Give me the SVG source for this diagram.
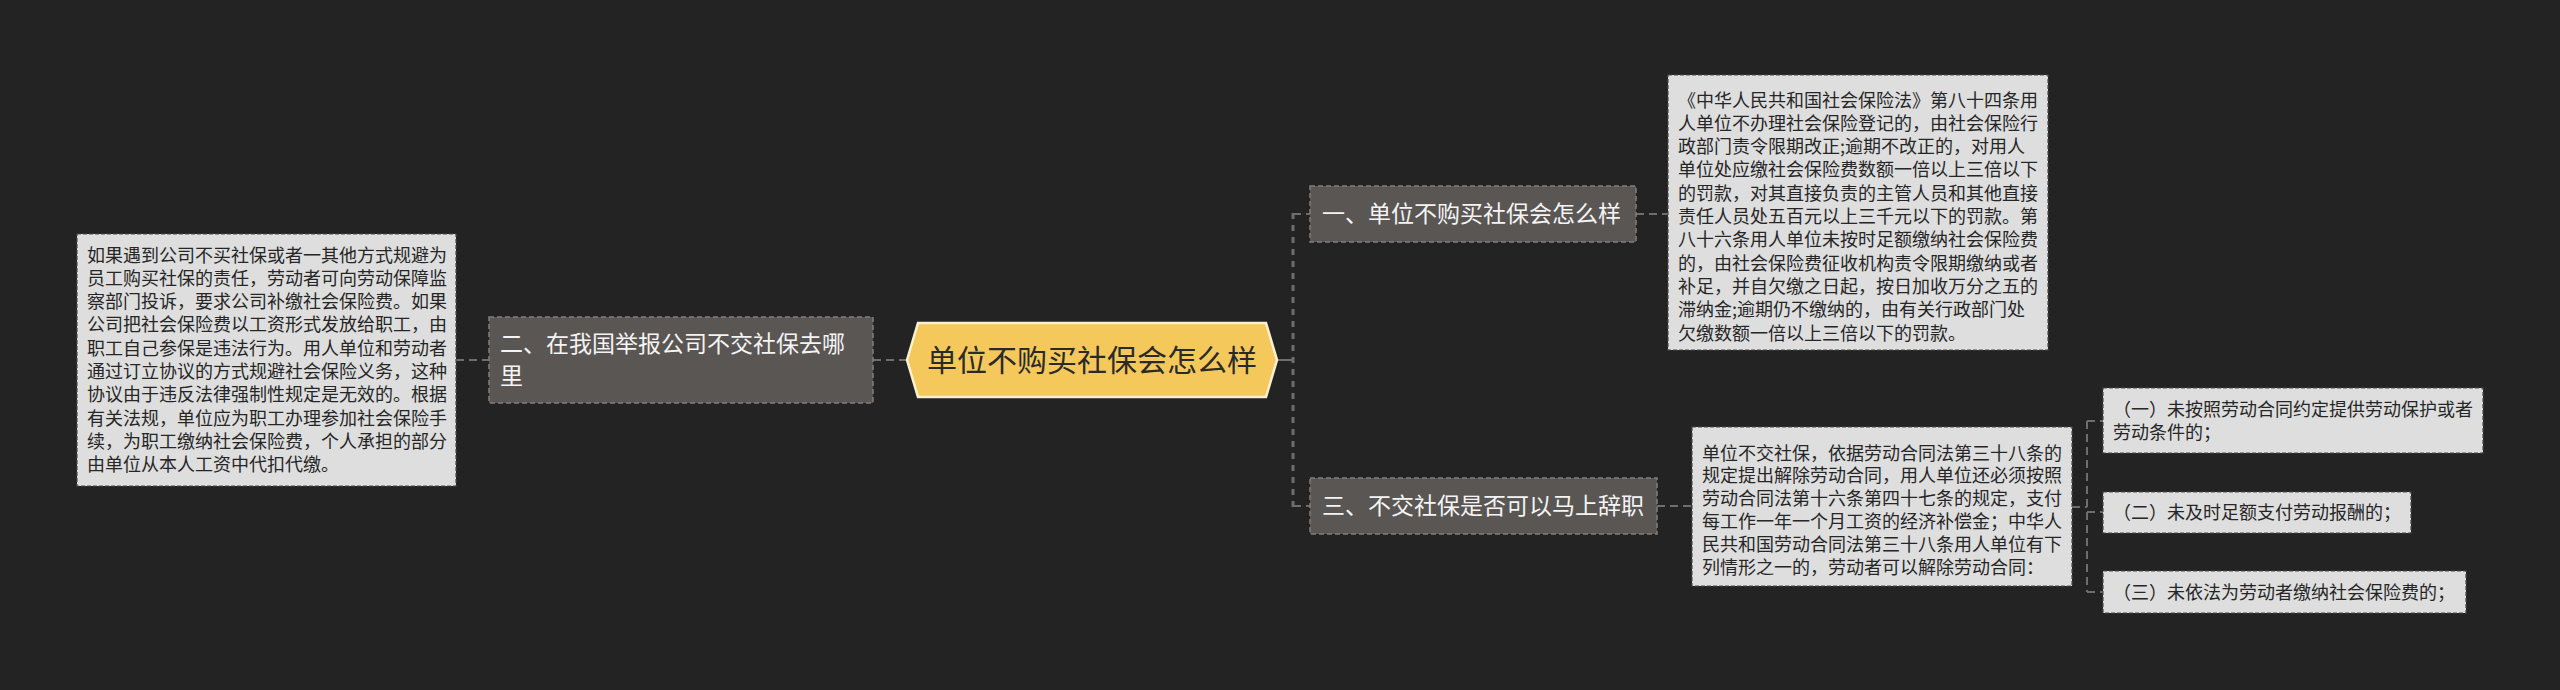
<svg xmlns="http://www.w3.org/2000/svg" width="2560" height="690" viewBox="0 0 2560 690">
<style>
.bg{fill:#232323}
.conn{fill:none;stroke:#6e6e6e;stroke-width:2;stroke-dasharray:8 5}
.conn2{fill:none;stroke:#6e6e6e;stroke-width:2}
.trunk{fill:none;stroke:#6e6e6e;stroke-width:3;stroke-dasharray:6 6}
.node{fill:#5a5654;stroke:#837e7b;stroke-width:1.5;stroke-dasharray:5 3}
.box{fill:#dedede;stroke:#4a4a4a;stroke-width:1.2;stroke-dasharray:4 2}
.ntxt{font-family:"Noto Sans CJK SC","Noto Sans",sans-serif;font-size:23px;fill:#f4f4f4}
.btxt{font-family:"Noto Sans CJK SC","Noto Sans",sans-serif;font-size:18px;fill:#262626}
.ctxt{font-family:"Noto Sans CJK SC","Noto Sans",sans-serif;font-size:30px;fill:#2a2a2a}
</style>
<rect class="bg" x="0" y="0" width="2560" height="690"/>
<g id="connectors">
<line class="conn" x1="873" y1="360" x2="907" y2="360"/>
<line class="conn" x1="456" y1="360" x2="489" y2="360"/>
<line class="conn2" x1="1277" y1="360" x2="1293" y2="360"/>
<line class="trunk" x1="1293" y1="213" x2="1293" y2="507"/>
<line class="conn" x1="1293" y1="214" x2="1310" y2="214"/>
<line class="conn" x1="1293" y1="506" x2="1310" y2="506"/>
<line class="conn" x1="1636" y1="214" x2="1668" y2="214"/>
<line class="conn" x1="1657" y1="506" x2="1692" y2="506"/>
<line class="conn" x1="2072" y1="507" x2="2087" y2="507"/>
<line class="conn" x1="2087" y1="421" x2="2087" y2="592" stroke-width="1.5"/>
<line class="conn" x1="2087" y1="421" x2="2103" y2="421" stroke-width="1.5"/>
<line class="conn" x1="2087" y1="512" x2="2103" y2="512" stroke-width="1.5"/>
<line class="conn" x1="2087" y1="592" x2="2103" y2="592" stroke-width="1.5"/>
</g>
<g id="center">
<path d="M907,360 L918,323 L1266,323 L1277,360 L1266,397 L918,397 Z" fill="#f4c85a" stroke="#fbf0d2" stroke-width="2.5"/>
<text class="ctxt" x="1092" y="371" text-anchor="middle">单位不购买社保会怎么样</text>
</g>
<g id="node2">
<rect class="node" x="489" y="317" width="384" height="86"/>
<text class="ntxt"><tspan x="500" y="352">二、在我国举报公司不交社保去哪</tspan><tspan x="500" y="384">里</tspan></text>
</g>
<g id="node2-detail">
<rect class="box" x="77" y="234" width="379" height="252"/>
<text class="btxt">
<tspan x="87" y="261.5">如果遇到公司不买社保或者一其他方式规避为</tspan>
<tspan x="87" y="284.8">员工购买社保的责任，劳动者可向劳动保障监</tspan>
<tspan x="87" y="308.1">察部门投诉，要求公司补缴社会保险费。如果</tspan>
<tspan x="87" y="331.4">公司把社会保险费以工资形式发放给职工，由</tspan>
<tspan x="87" y="354.7">职工自己参保是违法行为。用人单位和劳动者</tspan>
<tspan x="87" y="378">通过订立协议的方式规避社会保险义务，这种</tspan>
<tspan x="87" y="401.3">协议由于违反法律强制性规定是无效的。根据</tspan>
<tspan x="87" y="424.6">有关法规，单位应为职工办理参加社会保险手</tspan>
<tspan x="87" y="447.9">续，为职工缴纳社会保险费，个人承担的部分</tspan>
<tspan x="87" y="471.2">由单位从本人工资中代扣代缴。</tspan>
</text>
</g>
<g id="node1">
<rect class="node" x="1310" y="186" width="326" height="56"/>
<text class="ntxt" x="1322" y="222">一、单位不购买社保会怎么样</text>
</g>
<g id="node1-detail">
<rect class="box" x="1668" y="75" width="380" height="275"/>
<text class="btxt">
<tspan x="1678" y="106.5">《中华人民共和国社会保险法》第八十四条用</tspan>
<tspan x="1678" y="129.8">人单位不办理社会保险登记的，由社会保险行</tspan>
<tspan x="1678" y="153.1">政部门责令限期改正;逾期不改正的，对用人</tspan>
<tspan x="1678" y="176.4">单位处应缴社会保险费数额一倍以上三倍以下</tspan>
<tspan x="1678" y="199.7">的罚款，对其直接负责的主管人员和其他直接</tspan>
<tspan x="1678" y="223">责任人员处五百元以上三千元以下的罚款。第</tspan>
<tspan x="1678" y="246.3">八十六条用人单位未按时足额缴纳社会保险费</tspan>
<tspan x="1678" y="269.6">的，由社会保险费征收机构责令限期缴纳或者</tspan>
<tspan x="1678" y="292.9">补足，并自欠缴之日起，按日加收万分之五的</tspan>
<tspan x="1678" y="316.2">滞纳金;逾期仍不缴纳的，由有关行政部门处</tspan>
<tspan x="1678" y="339.5">欠缴数额一倍以上三倍以下的罚款。</tspan>
</text>
</g>
<g id="node3">
<rect class="node" x="1310" y="478" width="347" height="56"/>
<text class="ntxt" x="1322" y="514">三、不交社保是否可以马上辞职</text>
</g>
<g id="node3-detail">
<rect class="box" x="1692" y="427" width="380" height="159"/>
<text class="btxt">
<tspan x="1702" y="459.5">单位不交社保，依据劳动合同法第三十八条的</tspan>
<tspan x="1702" y="482.3">规定提出解除劳动合同，用人单位还必须按照</tspan>
<tspan x="1702" y="505.1">劳动合同法第十六条第四十七条的规定，支付</tspan>
<tspan x="1702" y="527.9">每工作一年一个月工资的经济补偿金；中华人</tspan>
<tspan x="1702" y="550.7">民共和国劳动合同法第三十八条用人单位有下</tspan>
<tspan x="1702" y="573.5">列情形之一的，劳动者可以解除劳动合同：</tspan>
</text>
</g>
<g id="item1">
<rect class="box" x="2103" y="388" width="380" height="65"/>
<text class="btxt"><tspan x="2113" y="416">（一）未按照劳动合同约定提供劳动保护或者</tspan><tspan x="2113" y="439">劳动条件的；</tspan></text>
</g>
<g id="item2">
<rect class="box" x="2103" y="492" width="308" height="41"/>
<text class="btxt" x="2113" y="518.5">（二）未及时足额支付劳动报酬的；</text>
</g>
<g id="item3">
<rect class="box" x="2103" y="571" width="363" height="42"/>
<text class="btxt" x="2113" y="598.5">（三）未依法为劳动者缴纳社会保险费的；</text>
</g>
</svg>
